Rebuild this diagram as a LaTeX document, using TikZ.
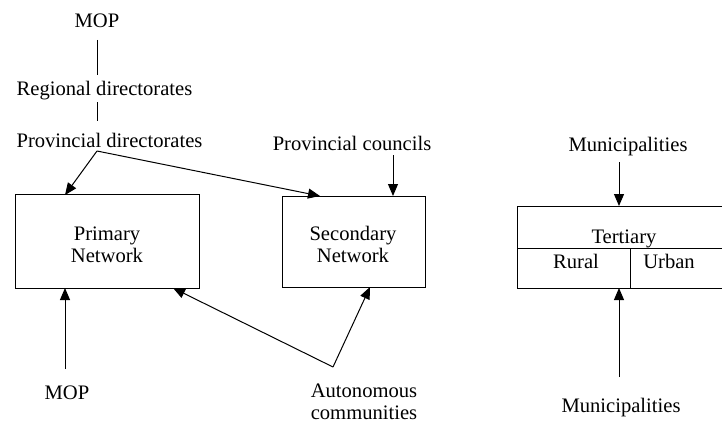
\documentclass[tikz,border=0pt]{standalone}
\usepackage{fontspec}
\setmainfont{Liberation Serif}
\usetikzlibrary{arrows.meta}
\begin{document}
\begin{tikzpicture}[x=1pt,y=-1pt,
  every node/.style={font=\fontsize{20.6}{22}\selectfont, inner sep=0pt},
  lbl/.style={anchor=base, align=center},
  box/.style={draw, line width=1pt, rectangle, inner sep=0pt},
  link/.style={line width=1pt},
  flow/.style={line width=1pt, -{Triangle[length=12pt,width=10pt]}}]
\useasboundingbox (0,0) rectangle (722,420);

% --- labels (multi-line labels are placed by their last baseline) ---
\node[lbl] (mopT)  at (97,28)    {MOP};
\node[lbl] (regd)  at (104.5,95) {Regional directorates};
\node[lbl] (prvd)  at (109.5,147){Provincial directorates};
\node[lbl] (prvc)  at (352,150)  {Provincial councils};
\node[lbl] (munT)  at (628,151)  {Municipalities};
\node[lbl] (mopB)  at (67,399)   {MOP};
\node[lbl] (auto)  at (364,419)  {Autonomous\\communities};
\node[lbl] (munB)  at (621,412)  {Municipalities};

% --- network boxes ---
\node[box, minimum width=184pt, minimum height=94pt] (prim) at (107,241) {};
\node[lbl] (primtxt) at (107,262) {Primary\\Network};
\node[box, minimum width=143pt, minimum height=91pt] (sec) at (353.5,241.5) {};
\node[lbl] (sectxt) at (353,262) {Secondary\\Network};

% tertiary box, running off the right edge
\draw[link] (725,206) -- (517,206) -- (517,288) -- (725,288);
\draw[link] (517,248) -- (725,248);
\draw[link] (630,248) -- (630,288);
\coordinate (terT) at (619,206);
\coordinate (terB) at (619,288);
\node[lbl] (tert)  at (624,243) {Tertiary};
\node[lbl] (rural) at (576,268) {Rural};
\node[lbl] (urban) at (669,268) {Urban};

% --- connector end points ---
\coordinate (m1) at (97,40);   \coordinate (m2) at (97,75);
\coordinate (r1) at (97,102);  \coordinate (r2) at (97,121);
\coordinate (fork) at (97,151);
\coordinate (primT) at (65,195);
\coordinate (secT1) at (320,196);
\coordinate (pc1) at (393,155); \coordinate (secT2) at (393,196);
\coordinate (mt1) at (619,162);
\coordinate (mb1) at (619,377);
\coordinate (mopB1) at (65,369); \coordinate (primB1) at (65,288);
\coordinate (ac) at (333,367);
\coordinate (primB2) at (173,288);
\coordinate (secB) at (370,287);

% --- connectors ---
\draw[link] (m1) -- (m2);
\draw[link] (r1) -- (r2);
\draw[flow] (fork) -- (primT);
\draw[flow] (fork) -- (secT1);
\draw[flow] (pc1) -- (secT2);
\draw[flow] (mt1) -- (terT);
\draw[flow] (mb1) -- (terB);
\draw[flow] (mopB1) -- (primB1);
\draw[flow] (ac) -- (primB2);
\draw[flow] (ac) -- (secB);
\end{tikzpicture}
\end{document}
